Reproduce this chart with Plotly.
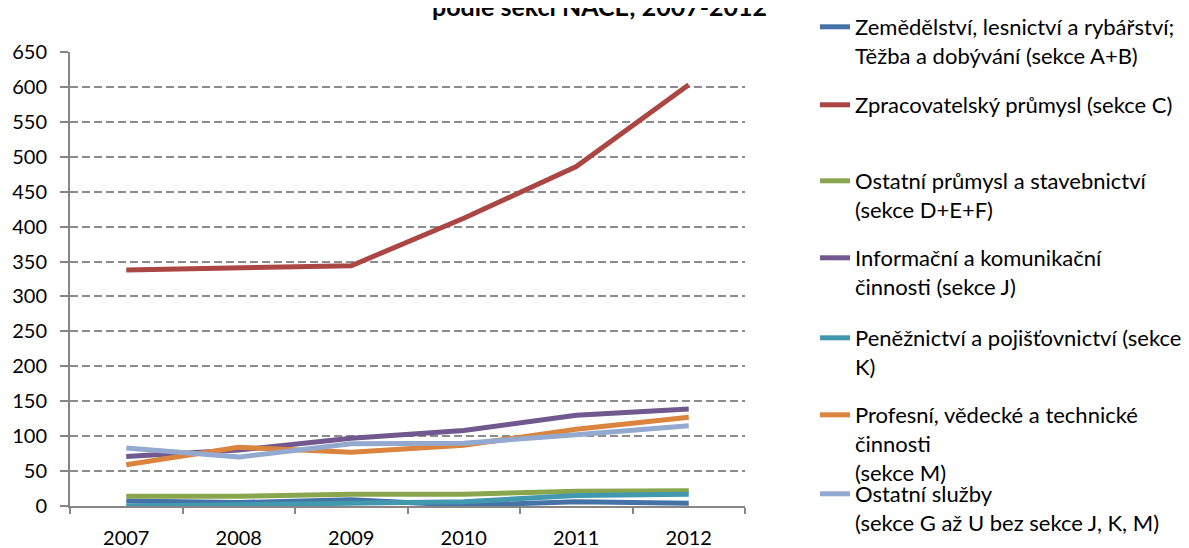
import plotly.graph_objects as go

years = ["2007", "2008", "2009", "2010", "2011", "2012"]

names = [
    "Zemědělství, lesnictví a rybářství;<br>Těžba a dobývání (sekce A+B)",
    "Zpracovatelský průmysl (sekce C)",
    "Ostatní průmysl a stavebnictví<br>(sekce D+E+F)",
    "Informační a komunikační<br>činnosti (sekce J)",
    "Peněžnictví a pojišťovnictví (sekce<br>K)",
    "Profesní, vědecké a technické<br>činnosti<br>(sekce M)",
    "Ostatní služby<br>(sekce G až U bez sekce J, K, M)",
]

ab = [7, 5, 9, 1, 6, 4]
c = [338, 341, 344, 412, 486, 603]
def_ = [14, 14, 17, 17, 21, 22]
j = [71, 80, 97, 108, 130, 139]
k = [0, 1.5, 3, 6, 15, 17]
m = [59, 84, 77, 87, 110, 127]
other = [83, 70, 89, 90, 102, 115]

series = [ab, c, def_, j, k, m, other]
colors = ["#4572A7", "#AA4643", "#89A54E", "#71588F", "#4198AF", "#DB843D", "#93A9CF"]

# legend first-line centre, in page pixels from the top
legend_rows = [27, 105, 181, 258, 338, 415, 494]

FONT = "Lato"
OFF = 8  # page body margin
W, H = 1189 - OFF, 548 - OFF
PLOT_L, PLOT_R, PLOT_T, PLOT_B = 70, 745, 52, 506  # page pixels
ML = PLOT_L - OFF
MT = PLOT_T - OFF
PW = PLOT_R - PLOT_L
PH = PLOT_B - PLOT_T
MR = W - ML - PW
MB = H - MT - PH
LEG_TEXT_X = 855
FIRST_LINE_OFFSET = 21


def px_x(page_x):
    return (page_x - OFF - ML) / PW


def px_y(page_y):
    return 1 + (MT - (page_y - OFF)) / PH


fig = go.Figure()
legend_layout = {}
for i, (nm, vals, col) in enumerate(zip(names, series, colors)):
    key = "legend" if i == 0 else f"legend{i+1}"
    fig.add_trace(go.Scatter(
        x=years, y=vals, name=nm, mode="lines",
        line=dict(color=col, width=5),
        legend=key,
    ))
    legend_layout[key] = dict(
        x=px_x(LEG_TEXT_X - 40), xanchor="left",
        y=px_y(legend_rows[i] - FIRST_LINE_OFFSET), yanchor="top",
        valign="top", itemwidth=30,
        font=dict(family=FONT, size=22, color="black"),
        bgcolor="rgba(0,0,0,0)",
    )

fig.update_layout(
    width=W, height=H,
    margin=dict(l=ML, r=MR, t=MT, b=MB, autoexpand=False),
    paper_bgcolor="white", plot_bgcolor="white",
    font=dict(family=FONT, size=20, color="black"),
    showlegend=True,
    annotations=[dict(
        text="<b>podle sekcí NACE; 2007-2012</b>",
        xref="paper", yref="paper", x=px_x(599), y=px_y(23),
        xanchor="center", yanchor="bottom", showarrow=False,
        font=dict(family=FONT, size=25, color="black"),
    )],
    **legend_layout,
)

fig.update_xaxes(
    type="category", tickson="boundaries", range=[-0.5, 5.5],
    showline=True, linecolor="#868686", linewidth=2,
    ticks="outside", ticklen=6, tickcolor="#868686", tickwidth=1.5,
    showgrid=False, ticklabelstandoff=13,
    tickfont=dict(family=FONT, size=20, color="black"),
)
fig.update_yaxes(
    range=[0, 650], dtick=50, tick0=0,
    showline=True, linecolor="#868686", linewidth=2,
    ticks="outside", ticklen=8, tickcolor="#868686", tickwidth=1.5,
    showgrid=True, gridcolor="#8c8c8c", gridwidth=1.5, griddash="8px,4px",
    zeroline=False, ticklabelstandoff=9,
    tickfont=dict(family=FONT, size=20, color="black"),
)

fig.write_html("out.html")
